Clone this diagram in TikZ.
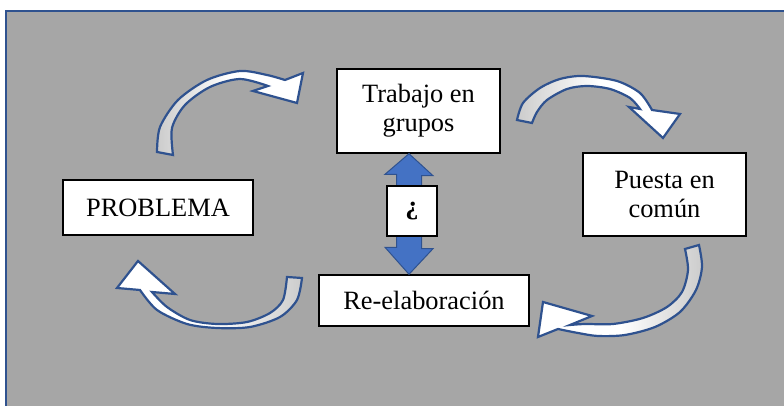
\documentclass[tikz,border=0pt]{standalone}
\usepackage{fontspec}
\setmainfont{Liberation Serif}
\definecolor{fondo}{HTML}{A6A6A6}
\definecolor{borde}{HTML}{2F528F}
\definecolor{azul}{HTML}{4472C4}
\begin{document}
\begin{tikzpicture}[x=0.5pt,y=0.5pt,
  caja/.style={draw, line width=0.7pt, fill=white, inner sep=0, align=center, font=\fontsize{13.2}{14.5}\selectfont},
  curva/.style={draw=borde, line width=1.1pt, line join=miter},
  flechadoble/.style={draw=borde, line width=0.5pt, fill=azul, line join=miter}]
\clip (0,0) rectangle (784,406);
\draw[fill=fondo, draw=borde, line width=1.2pt] (6,395) rectangle (810,-20);
\node[caja, minimum width=81.5pt, minimum height=42pt](trabajo)at(418.5,295){Trabajo en\\grupos};
\node[caja, minimum width=81.5pt, minimum height=41.5pt](puesta)at(664.5,211.5){Puesta en\\común};
\node[caja, minimum width=95pt, minimum height=27.5pt](problema)at(158,198.5){PROBLEMA};
\node[caja, minimum width=105pt, minimum height=25.5pt](reelab)at(424,105.5){Re-elaboración};
\coordinate(eje)at(409,0);
\draw[flechadoble](trabajo.south -| eje) -- ++(24,-22) -- ++(-11.5,0) -- ++(0,-73) -- ++(11.5,0) -- (reelab.north -| eje) -- ++(-24,27) -- ++(11.5,0) -- ++(0,73) -- ++(-11.5,0) -- cycle;
\node[caja, minimum width=25pt, minimum height=25pt](pregunta)at(412,195){\textbf{¿}};
% flechas curvas
\draw[curva, left color=gray!40, right color=white, middle color=white] plot[smooth] coordinates {(157,254) (160,279) (178,306) (207,326) (240,335) (267,331) (285,326)} -- (303,333) -- (297,303) -- (253,315) -- plot[smooth] coordinates {(268,320) (240,327) (210,319) (185,301) (172,278) (173,251)} -- cycle;
\draw[curva, left color=gray!40, right color=white, middle color=white] plot[smooth] coordinates {(517,286) (523,303) (540,318) (560,327) (583,330) (617,325) (640,313) (652,296)} -- (680,292) -- (663,268) -- (629,299) -- plot[smooth] coordinates {(640,297) (630,308) (610,317) (587,320) (567,317) (547,306) (537,294) (532,283)} -- cycle;
\draw[curva, left color=white, right color=gray!40, middle color=white] plot[smooth] coordinates {(699,161) (702,139) (696,116) (680,94) (655,79) (625,71) (598,70) (578,73) (558,77)} -- (538,69) -- (543,104) -- (592,90) -- plot[smooth] coordinates {(570,81) (585,82) (613,82) (643,88) (667,99) (682,114) (688,136) (685,157)} -- cycle;
\draw[curva, left color=white, right color=gray!40, middle color=white] plot[smooth] coordinates {(287,129) (283,106) (270,93) (247,84) (217,82) (190,86) (167,99) (152,114)} -- (175,112) -- (138,145) -- (117,118) -- plot[smooth] coordinates {(140,116) (157,96) (187,82) (217,78) (250,79) (280,89) (297,106) (302,128)} -- cycle;
\end{tikzpicture}
\end{document}
